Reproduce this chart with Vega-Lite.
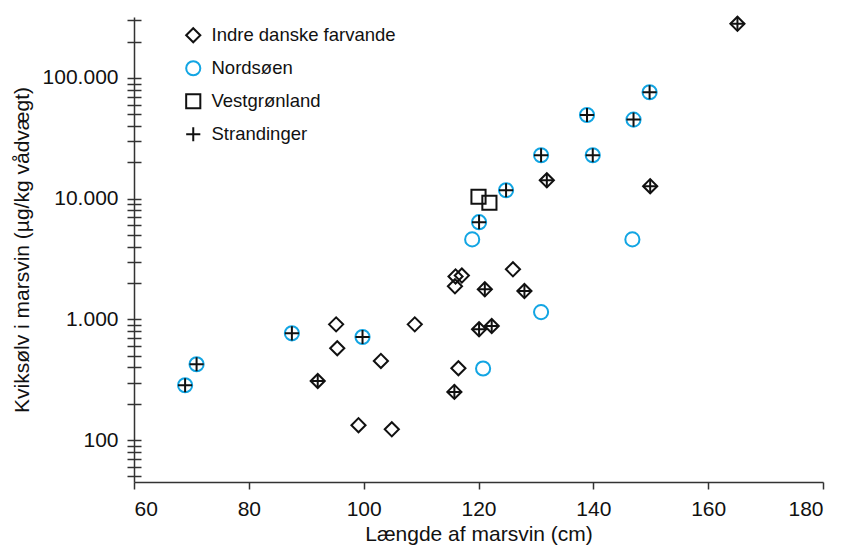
{
  "$schema": "https://vega.github.io/schema/vega-lite/v6.json",
  "width": 689,
  "height": 465,
  "autosize": "none",
  "padding": {"left": 134, "top": 17, "right": 19, "bottom": 74},
  "background": "white",
  "config": {
    "view": {"stroke": null},
    "font": "Liberation Sans",
    "axis": {"domainColor": "#333333", "tickColor": "#333333", "labelColor": "#111111", "titleColor": "#111111", "grid": false, "domainWidth": 1.5, "tickWidth": 1.5}
  },
  "data": {
    "values": [
      {"laengde": 95.2, "kviksoelv": 910, "omraade": "Indre danske farvande", "strandet": false},
      {"laengde": 95.4, "kviksoelv": 577, "omraade": "Indre danske farvande", "strandet": false},
      {"laengde": 103.0, "kviksoelv": 453, "omraade": "Indre danske farvande", "strandet": false},
      {"laengde": 108.9, "kviksoelv": 910, "omraade": "Indre danske farvande", "strandet": false},
      {"laengde": 99.1, "kviksoelv": 133, "omraade": "Indre danske farvande", "strandet": false},
      {"laengde": 104.9, "kviksoelv": 123, "omraade": "Indre danske farvande", "strandet": false},
      {"laengde": 115.9, "kviksoelv": 1880, "omraade": "Indre danske farvande", "strandet": false},
      {"laengde": 116.0, "kviksoelv": 2270, "omraade": "Indre danske farvande", "strandet": false},
      {"laengde": 117.1, "kviksoelv": 2310, "omraade": "Indre danske farvande", "strandet": false},
      {"laengde": 126.0, "kviksoelv": 2600, "omraade": "Indre danske farvande", "strandet": false},
      {"laengde": 116.5, "kviksoelv": 394, "omraade": "Indre danske farvande", "strandet": false},
      {"laengde": 92.0, "kviksoelv": 309, "omraade": "Indre danske farvande", "strandet": true},
      {"laengde": 121.1, "kviksoelv": 1775, "omraade": "Indre danske farvande", "strandet": true},
      {"laengde": 128.0, "kviksoelv": 1718, "omraade": "Indre danske farvande", "strandet": true},
      {"laengde": 120.1, "kviksoelv": 828, "omraade": "Indre danske farvande", "strandet": true},
      {"laengde": 122.3, "kviksoelv": 882, "omraade": "Indre danske farvande", "strandet": true},
      {"laengde": 115.8, "kviksoelv": 251, "omraade": "Indre danske farvande", "strandet": true},
      {"laengde": 165.1, "kviksoelv": 281000, "omraade": "Indre danske farvande", "strandet": true},
      {"laengde": 131.9, "kviksoelv": 14200, "omraade": "Indre danske farvande", "strandet": true},
      {"laengde": 149.9, "kviksoelv": 12700, "omraade": "Indre danske farvande", "strandet": true},
      {"laengde": 118.9, "kviksoelv": 4600, "omraade": "Nordsøen", "strandet": false},
      {"laengde": 146.8, "kviksoelv": 4600, "omraade": "Nordsøen", "strandet": false},
      {"laengde": 130.9, "kviksoelv": 1150, "omraade": "Nordsøen", "strandet": false},
      {"laengde": 120.8, "kviksoelv": 392, "omraade": "Nordsøen", "strandet": false},
      {"laengde": 68.9, "kviksoelv": 285, "omraade": "Nordsøen", "strandet": true},
      {"laengde": 70.9, "kviksoelv": 425, "omraade": "Nordsøen", "strandet": true},
      {"laengde": 87.5, "kviksoelv": 767, "omraade": "Nordsøen", "strandet": true},
      {"laengde": 99.8, "kviksoelv": 715, "omraade": "Nordsøen", "strandet": true},
      {"laengde": 130.9, "kviksoelv": 22900, "omraade": "Nordsøen", "strandet": true},
      {"laengde": 139.9, "kviksoelv": 22900, "omraade": "Nordsøen", "strandet": true},
      {"laengde": 149.8, "kviksoelv": 76100, "omraade": "Nordsøen", "strandet": true},
      {"laengde": 138.9, "kviksoelv": 49400, "omraade": "Nordsøen", "strandet": true},
      {"laengde": 147.0, "kviksoelv": 45200, "omraade": "Nordsøen", "strandet": true},
      {"laengde": 124.8, "kviksoelv": 11760, "omraade": "Nordsøen", "strandet": true},
      {"laengde": 120.1, "kviksoelv": 6390, "omraade": "Nordsøen", "strandet": true},
      {"laengde": 120.0, "kviksoelv": 10370, "omraade": "Vestgrønland", "strandet": false},
      {"laengde": 121.9, "kviksoelv": 9250, "omraade": "Vestgrønland", "strandet": false}
    ]
  },
  "layer": [
    {
      "mark": {"type": "point", "filled": false, "size": 200, "strokeWidth": 2, "opacity": 1},
      "encoding": {
        "x": {
          "field": "laengde", "type": "quantitative",
          "scale": {"domain": [60, 180], "nice": false, "zero": false},
          "axis": {"values": [60, 80, 100, 120, 140, 160, 180], "tickSize": 7, "labelPadding": 9, "labelFontSize": 21, "title": "Længde af marsvin (cm)", "titleFontSize": 21, "titleFontWeight": "normal", "titlePadding": 4}
        },
        "y": {
          "field": "kviksoelv", "type": "quantitative",
          "scale": {"type": "log", "domain": [45, 320000], "nice": false},
          "axis": {
            "orient": "left",
            "values": [50, 60, 70, 80, 90, 100, 200, 300, 400, 500, 600, 700, 800, 900, 1000, 2000, 3000, 4000, 5000, 6000, 7000, 8000, 9000, 10000, 20000, 30000, 40000, 50000, 60000, 70000, 80000, 90000, 100000, 200000, 300000],
            "labelExpr": "datum.value == 100 ? '100' : datum.value == 1000 ? '1.000' : datum.value == 10000 ? '10.000' : datum.value == 100000 ? '100.000' : ''",
            "tickSize": 7, "labelPadding": 9, "labelFontSize": 21,
            "title": "Kviksølv i marsvin (µg/kg vådvægt)", "titleFontSize": 21, "titleFontWeight": "normal", "titlePadding": 10
          }
        },
        "shape": {
          "field": "omraade", "type": "nominal",
          "scale": {"domain": ["Indre danske farvande", "Nordsøen", "Vestgrønland", "Strandinger"], "range": ["diamond", "circle", "square", "M-1,0L1,0M0,-1L0,1"]},
          "legend": {"title": null, "orient": "none", "legendX": 50, "legendY": 9, "labelFontSize": 18.5, "labelColor": "#111111", "labelLimit": 400, "symbolSize": 200, "symbolStrokeWidth": 2, "rowPadding": 10, "labelOffset": 9}
        },
        "color": {
          "field": "omraade", "type": "nominal",
          "scale": {"domain": ["Indre danske farvande", "Nordsøen", "Vestgrønland", "Strandinger"], "range": ["#111111", "#12a5e3", "#111111", "#111111"]},
          "legend": {"title": null, "orient": "none", "legendX": 50, "legendY": 9, "labelFontSize": 18.5, "labelColor": "#111111", "labelLimit": 400, "symbolSize": 200, "symbolStrokeWidth": 2, "rowPadding": 10, "labelOffset": 9}
        }
      }
    },
    {
      "transform": [{"filter": "datum.strandet"}],
      "mark": {"type": "point", "filled": false, "size": 200, "strokeWidth": 2, "opacity": 1},
      "encoding": {
        "x": {"field": "laengde", "type": "quantitative"},
        "y": {
          "field": "kviksoelv", "type": "quantitative",
          "axis": {
            "orient": "left",
            "values": [50, 60, 70, 80, 90, 100, 200, 300, 400, 500, 600, 700, 800, 900, 1000, 2000, 3000, 4000, 5000, 6000, 7000, 8000, 9000, 10000, 20000, 30000, 40000, 50000, 60000, 70000, 80000, 90000, 100000, 200000, 300000],
            "tickSize": -7, "labels": false, "domain": false, "title": null
          }
        },
        "shape": {"datum": "Strandinger", "type": "nominal"},
        "color": {"datum": "Strandinger", "type": "nominal"}
      }
    }
  ],
  "resolve": {"axis": {"y": "independent"}}
}
